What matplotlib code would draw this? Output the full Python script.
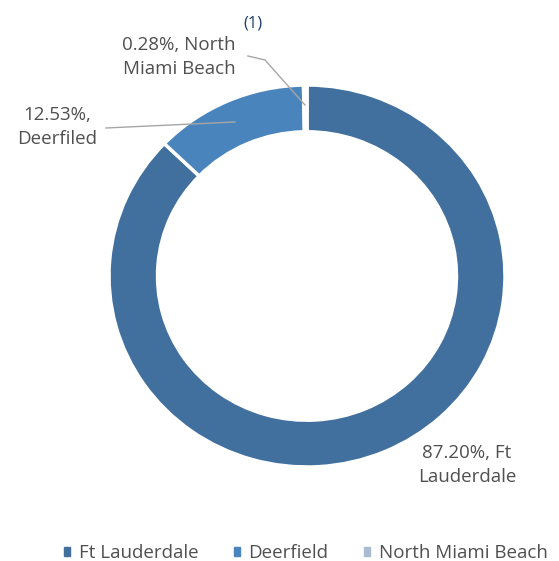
import matplotlib
matplotlib.use("Agg")
import matplotlib.pyplot as plt
from matplotlib.lines import Line2D

categories = ["Ft Lauderdale", "Deerfield", "North Miami Beach"]
values = [87.20, 12.53, 0.28]
label_names = ["Ft\nLauderdale", "\nDeerfiled", " North\nMiami Beach"]
colors = ["#41709F", "#4A84BC", "#A9BCD0"]

plt.rcParams['font.family'] = ['Open Sans', 'DejaVu Sans']
W, H = 559, 561
fig = plt.figure(figsize=(W/100, H/100), dpi=100)

cx, cy, Rx, Ry = 307, 276, 198, 191
ax = fig.add_axes([(cx-Rx)/W, 1-(cy+Ry)/H, 2*Rx/W, 2*Ry/H])
wedges, _ = ax.pie(values, colors=colors, startangle=90, counterclock=False,
                   radius=1.0, wedgeprops=dict(width=0.245, edgecolor="white", linewidth=2.5))
ax.set_xlim(-1, 1); ax.set_ylim(-1, 1)
ax.set_aspect("auto")
ax.axis("off")

tc = "#505050"
def fx(x): return x / W
def fy(y): return 1 - y / H

fs = 13.5
ls = 1.4
fig.text(fx(467), fy(465), f"{values[0]:.2f}%, {label_names[0]}", ha="center", va="center",
         fontsize=fs, color=tc, linespacing=ls)
fig.text(fx(57), fy(127), f"{values[1]:.2f}%,{label_names[1]}", ha="center", va="center",
         fontsize=fs, color=tc, linespacing=ls)
fig.text(fx(179), fy(57), f"{values[2]:.2f}%,{label_names[2]}", ha="center", va="center",
         fontsize=fs, color=tc, linespacing=ls)
fig.text(fx(253), fy(23), "(1)", ha="center", va="center", fontsize=12, color="#1F3F6A")

lc = "#A6A6A6"
fig.add_artist(Line2D([fx(106), fx(235)], [fy(128), fy(122)], color=lc, lw=1))
fig.add_artist(Line2D([fx(248), fx(265), fx(305)], [fy(56), fy(60), fy(105)], color=lc, lw=1))

handles = [plt.Rectangle((0, 0), 1, 1, color=c) for c in colors]
fig.legend(handles, categories, loc="center", bbox_to_anchor=(fx(306), fy(553)), ncol=3,
           frameon=False, fontsize=13.5, handlelength=0.32, handleheight=0.32,
           columnspacing=1.9, handletextpad=0.45, labelcolor=tc, borderpad=0, borderaxespad=0)

fig.savefig("out.png", dpi=100, facecolor="white")
